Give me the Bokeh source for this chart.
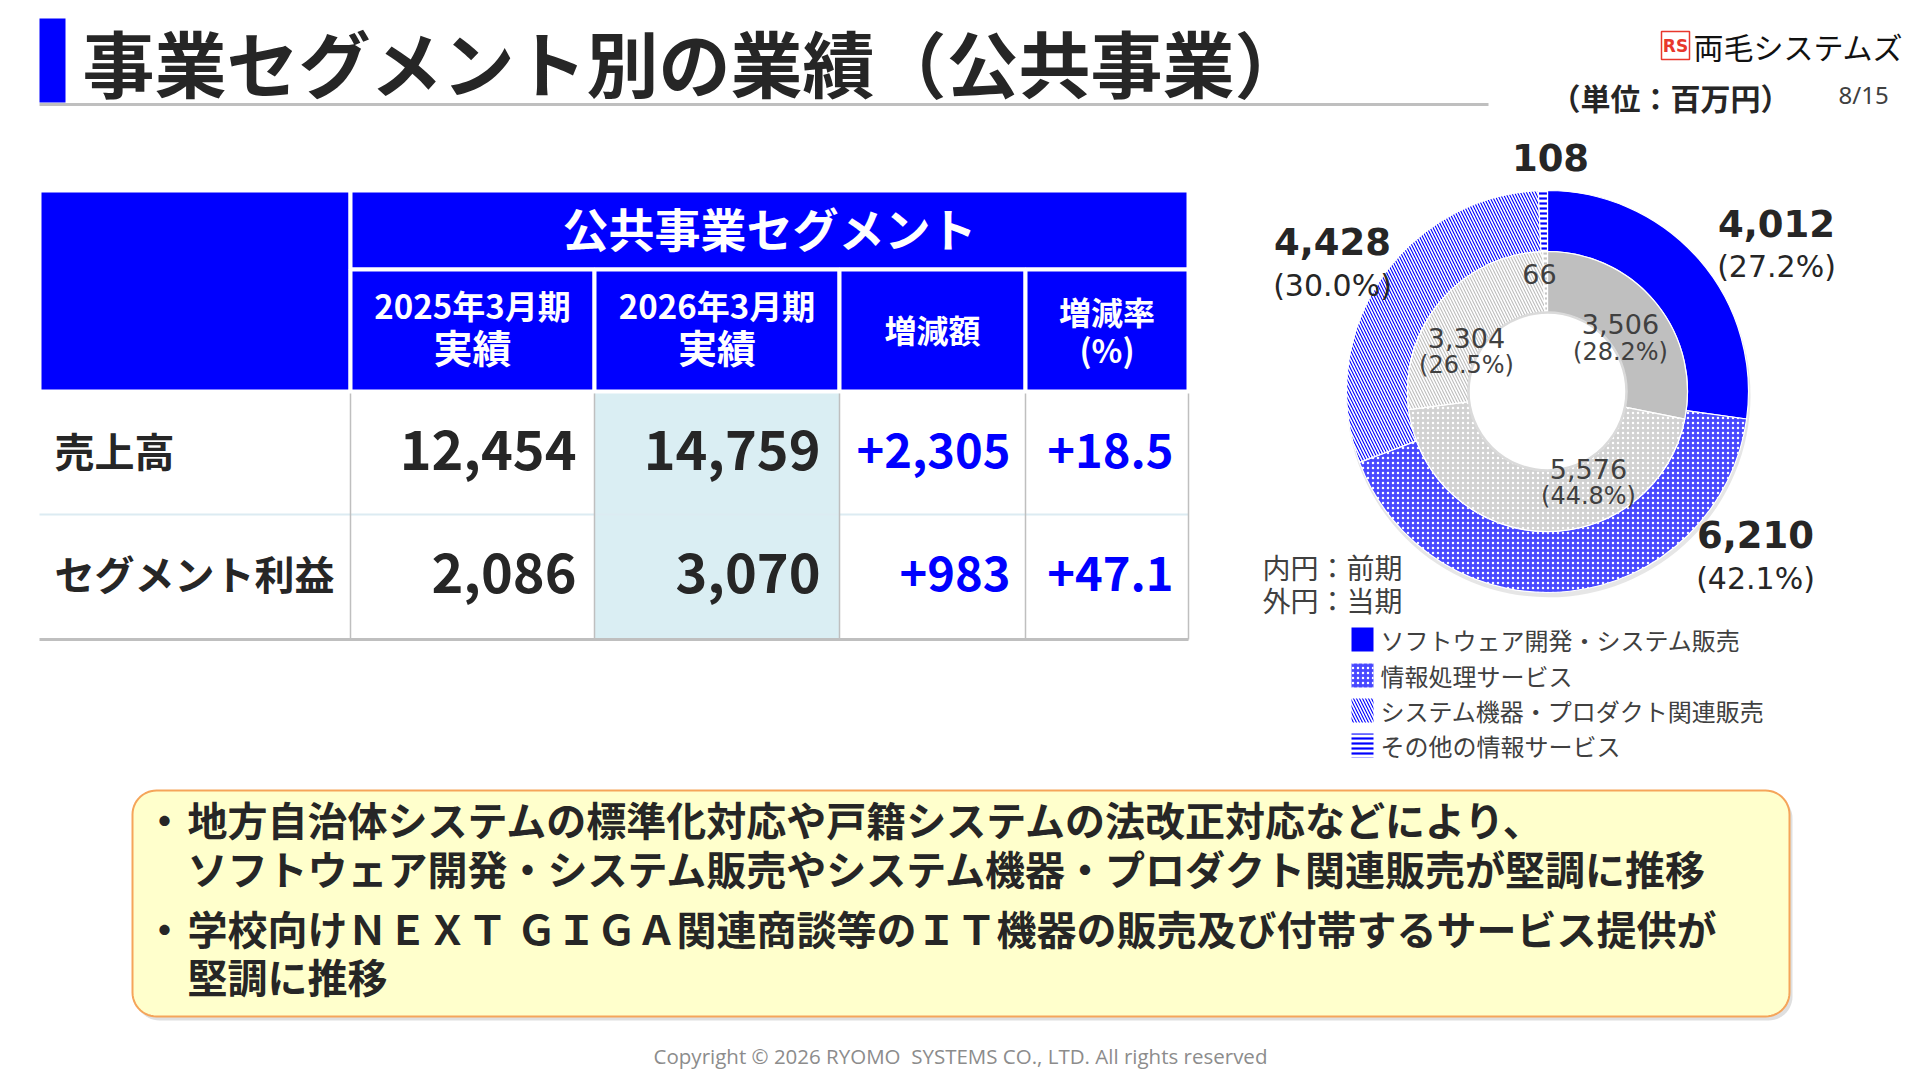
import numpy as np
from bokeh.plotting import figure
from bokeh.models import Range1d
from bokeh.core.properties import value
from bokeh.embed import file_html
from bokeh.resources import INLINE

# ---------------- data ----------------
row_labels = ["売上高", "セグメント利益"]
prev_values = [12454, 2086]
curr_values = [14759, 3070]
diff_values = [2305, 983]
rate_values = [18.5, 47.1]

segments = ["ソフトウェア開発・システム販売", "情報処理サービス",
            "システム機器・プロダクト関連販売", "その他の情報サービス"]
current_sales = [4012, 6210, 4428, 108]
current_share = [27.2, 42.1, 30.0, None]
previous_sales = [3506, 5576, 3304, 66]
previous_share = [28.2, 44.8, 26.5, None]

bullets = [
    ("・", "地方自治体システムの標準化対応や戸籍システムの法改正対応などにより、"),
    ("", "ソフトウェア開発・システム販売やシステム機器・プロダクト関連販売が堅調に推移"),
    ("・", "学校向けＮＥＸＴ ＧＩＧＡ関連商談等のＩＴ機器の販売及び付帯するサービス提供が"),
    ("", "堅調に推移"),
]

# ---------------- layout ----------------
W, H = 1904, 1072
JP = "Noto Sans CJK JP"
LAT = "DejaVu Sans"
BLUE = "#0000FF"
DARK = "#262626"
GREY_TXT = "#404040"

p = figure(width=W, height=H, x_range=Range1d(0, W), y_range=Range1d(1080 - H, 1080),
           output_backend="svg", toolbar_location=None, min_border=0,
           x_axis_type=None, y_axis_type=None)
p.grid.visible = False
p.outline_line_color = None
p.background_fill_color = "white"
p.border_fill_color = "white"


def Y(y):
    return 1080 - y


def txt(x, y, s, size, color=DARK, font=JP, style="normal", align="left"):
    p.text(x=[x], y=[Y(y)], text=[s], text_font=value(font), text_font_size=f"{size}px",
           text_font_style=style, text_color=color, text_align=align, text_baseline="middle")


def box(x0, y0, x1, y1, **kw):
    p.quad(left=[x0], right=[x1], top=[Y(y0)], bottom=[Y(y1)], **kw)


def hline(x0, x1, y, color, w):
    p.line(x=[x0, x1], y=[Y(y), Y(y)], line_color=color, line_width=w)


def vline(x, y0, y1, color, w):
    p.line(x=[x, x], y=[Y(y0), Y(y1)], line_color=color, line_width=w)


def rounded(x0, y0, x1, y1, r, n=14):
    xs, ys = [], []
    corners = [(x1 - r, y0 + r, -90, 0), (x1 - r, y1 - r, 0, 90),
               (x0 + r, y1 - r, 90, 180), (x0 + r, y0 + r, 180, 270)]
    for cx_, cy_, a0, a1 in corners:
        t = np.radians(np.linspace(a0, a1, n))
        xs += list(cx_ + r * np.cos(t))
        ys += list(Y(cy_ + r * np.sin(t)))
    return xs, ys


# ---------------- title ----------------
box(39, 18, 65, 102, fill_color=BLUE, line_color=None)
txt(82, 60, "事業セグメント別の業績（公共事業）", 72, style="bold")
hline(39, 1488, 104, "#BFBFBF", 3)

# logo
box(1661, 31, 1689, 59, fill_color="white", line_color="#E8372C", line_width=1.5)
txt(1675, 45, "RS", 17, color="#E8372C", font=LAT, style="bold", align="center")
txt(1693, 45, "両毛システムズ", 30, color="#111111")
txt(1550, 96, "（単位：百万円）", 30, style="bold")
txt(1838, 94, "8/15", 24, color=GREY_TXT, font="Noto Sans")

# ---------------- table ----------------
xe = [39, 350, 594, 839, 1025, 1188]
hdr_top, hdr_mid, hdr_bot = 190, 269, 391
row_bot = [514, 639]
row_y = [449, 572]

box(xe[0], hdr_top, xe[1], hdr_bot, fill_color=BLUE, line_color="white", line_width=4)
box(xe[1], hdr_top, xe[5], hdr_mid, fill_color=BLUE, line_color="white", line_width=4)
for i in range(1, 5):
    box(xe[i], hdr_mid, xe[i + 1], hdr_bot, fill_color=BLUE, line_color="white", line_width=4)
txt((xe[1] + xe[5]) / 2, 226, "公共事業セグメント", 46, color="white", style="bold", align="center")
hdr_lines = [("2025年3月期", "実績"), ("2026年3月期", "実績"), ("増減額", None), ("増減率", "(%)")]
for i, (l1, l2) in enumerate(hdr_lines):
    cxh = (xe[i + 1] + xe[i + 2]) / 2
    if l2 is None:
        txt(cxh, 328, l1, 32, color="white", style="bold", align="center")
    elif l1.startswith("増"):
        txt(cxh, 310, l1, 32, color="white", style="bold", align="center")
        txt(cxh, 348, l2, 32, color="white", style="bold", align="center")
    else:
        txt(cxh, 304, l1, 33, color="white", style="bold", align="center")
        txt(cxh, 345, l2, 39, color="white", style="bold", align="center")

box(xe[2], hdr_bot + 2, xe[3], row_bot[1], fill_color="#DAEEF3", line_color=None)
hline(xe[0], xe[5], row_bot[0], "#DCEBF2", 2)
for x in xe[1:]:
    vline(x, hdr_bot + 2, row_bot[1], "#BFBFBF", 1.5)
hline(xe[0], xe[5], row_bot[1], "#BFBFBF", 3)

for i in range(len(row_labels)):
    y = row_y[i]
    txt(54, y, row_labels[i], 40, style="bold")
    txt(576, y, f"{prev_values[i]:,}", 54, style="bold", align="right")
    txt(820, y, f"{curr_values[i]:,}", 54, style="bold", align="right")
    txt(1010, y + 1, f"+{diff_values[i]:,}", 47, color=BLUE, style="bold", align="right")
    txt(1173, y + 1, f"+{rate_values[i]:.1f}", 47, color=BLUE, style="bold", align="right")

# ---------------- donut ----------------
cx, cy = 1547, 391
r_hole, r_mid, r_out = 79, 140, 201


def angles(vals):
    cum = np.cumsum([0] + list(vals)) / float(sum(vals))
    start = np.pi / 2 - 2 * np.pi * cum[1:]
    end = np.pi / 2 - 2 * np.pi * cum[:-1]
    return start, end


outer_style = [
    dict(fill_color=BLUE),
    dict(fill_color="#4848FF", hatch_pattern="dot", hatch_color="white", hatch_scale=5, hatch_weight=1),
    dict(fill_color="white", hatch_pattern="left_diagonal_line", hatch_color=BLUE, hatch_scale=6, hatch_weight=1.1),
    dict(fill_color="white", hatch_pattern="horizontal_line", hatch_color=BLUE, hatch_scale=5, hatch_weight=2.2),
]
inner_style = [
    dict(fill_color="#BFBFBF"),
    dict(fill_color="#D2D2D2", hatch_pattern="dot", hatch_color="white", hatch_scale=5, hatch_weight=1),
    dict(fill_color="white", hatch_pattern="left_diagonal_line", hatch_color="#BDBDBD", hatch_scale=6, hatch_weight=1.1),
    dict(fill_color="white", hatch_pattern="horizontal_line", hatch_color="#C4C4C4", hatch_scale=5, hatch_weight=2.2),
]

# soft shadow under outer ring
p.circle(x=[cx + 1], y=[Y(cy + 4)], radius=r_out + 1, fill_color="#9A9A9A", fill_alpha=0.25, line_color=None)

s_out, e_out = angles(current_sales)
for i in range(len(current_sales)):
    p.annular_wedge(x=[cx], y=[Y(cy)], inner_radius=r_mid, outer_radius=r_out,
                    start_angle=[s_out[i]], end_angle=[e_out[i]], line_color="white", line_width=1.2,
                    **outer_style[i])
s_in, e_in = angles(previous_sales)
for i in range(len(previous_sales)):
    p.annular_wedge(x=[cx], y=[Y(cy)], inner_radius=r_hole, outer_radius=r_mid,
                    start_angle=[s_in[i]], end_angle=[e_in[i]], line_color="white", line_width=1.2,
                    **inner_style[i])
p.circle(x=[cx], y=[Y(cy)], radius=r_hole, fill_color="white", line_color="#DADADA", line_width=2.5)

outer_val_pos = [(1776, 223), (1755, 534), (1332, 241), (1550, 157)]
outer_pct_pos = [(1776, 266), (1755, 578), (1332, 285), None]
inner_val_pos = [(1620, 323), (1588, 468), (1466, 337), (1539, 273)]
inner_pct_pos = [(1620, 351), (1588, 495), (1466, 364), None]

for i in range(len(segments)):
    vx, vy = outer_val_pos[i]
    txt(vx, vy, f"{current_sales[i]:,}", 37, color=DARK, font=LAT, style="bold", align="center")
    if current_share[i] is not None:
        px_, py_ = outer_pct_pos[i]
        txt(px_, py_, f"({current_share[i]:.1f}%)", 30, color=DARK, font=LAT, align="center")
    vx, vy = inner_val_pos[i]
    txt(vx, vy, f"{previous_sales[i]:,}", 27, color=GREY_TXT, font=LAT, align="center")
    if previous_share[i] is not None:
        px_, py_ = inner_pct_pos[i]
        txt(px_, py_, f"({previous_share[i]:.1f}%)", 24, color=GREY_TXT, font=LAT, align="center")

txt(1262, 566, "内円：前期", 28, color=GREY_TXT)
txt(1262, 599, "外円：当期", 28, color=GREY_TXT)

leg_y = [639, 675, 710, 745]
for i in range(len(segments)):
    p.rect(x=[1362], y=[Y(leg_y[i])], width=22, height=24, line_color=None, **outer_style[i])
    txt(1380, leg_y[i], segments[i], 24, color=GREY_TXT)

# ---------------- comment box ----------------
sx, sy = rounded(132, 790, 1789, 1016, 24)
p.patch(x=[v + 3 for v in sx], y=[v - 4 for v in sy], fill_color="#7F7F7F", fill_alpha=0.25, line_color=None)
p.patch(x=sx, y=sy, fill_color="#FFFFCC", line_color="#F5A55A", line_width=2)
line_y = [818, 867, 927, 975]
for (bullet, text_), y in zip(bullets, line_y):
    if bullet:
        txt(144, y, bullet, 40, style="bold")
    txt(187, y, text_, 40, style="bold")

txt(960, 1055, "Copyright © 2026 RYOMO\u00a0 SYSTEMS CO., LTD. All rights reserved", 20.5,
    color="#8C8C8C", font="Open Sans", align="center")

open("out.html", "w").write(file_html(p, INLINE))
